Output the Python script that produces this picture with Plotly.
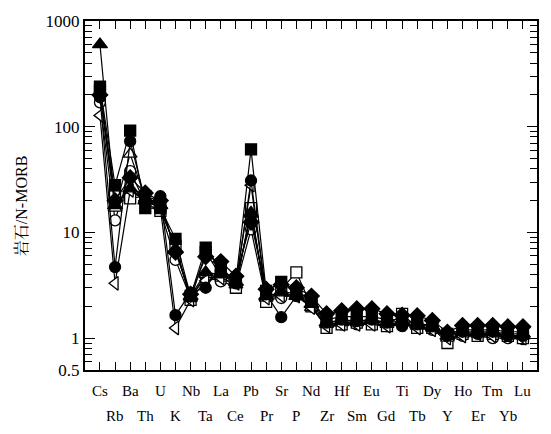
import plotly.graph_objects as go
import numpy as np

elements = ["Cs","Rb","Ba","Th","U","K","Nb","Ta","La","Ce","Pb","Pr","Sr","P","Nd",
            "Zr","Hf","Sm","Eu","Gd","Ti","Tb","Dy","Y","Ho","Er","Tm","Yb","Lu"]

open_circle   = [170, 13, 38, 19, 16, 5.5, 2.4, 3.8, 3.45, 3.1, 10.7, 2.3, 2.4, 2.7, 2.0,
                 1.3, 1.35, 1.35, 1.4, 1.3, 1.35, 1.3, 1.2, 1.0, 1.05, 1.05, 1.0, 1.0, 0.98]
open_square   = [220, 22, 21, 22, 16, 7.5, 2.3, 6.5, 3.9, 3.0, 17, 2.2, 2.9, 4.2, 2.0,
                 1.25, 1.35, 1.4, 1.35, 1.3, 1.7, 1.25, 1.25, 0.9, 1.1, 1.05, 1.1, 1.05, 1.0]
open_triangle = [210, 17, 55, 21, 18, 6.9, 2.4, 4.0, 4.1, 3.2, 15.5, 2.4, 2.8, 2.6, 1.95,
                 1.35, 1.4, 1.4, 1.45, 1.35, 1.4, 1.3, 1.25, 1.0, 1.1, 1.1, 1.1, 1.05, 1.05]
left_triangle = [128, 3.3, 25, 20, 17, 1.25, 2.3, 3.5, 3.7, 3.3, 28, 2.4, 2.5, 2.5, 1.95,
                 1.3, 1.35, 1.35, 1.35, 1.3, 1.35, 1.25, 1.2, 1.0, 1.05, 1.1, 1.05, 1.05, 1.0]
filled_triangle = [600, 18, 26, 20, 18, 7.0, 2.5, 4.2, 4.0, 3.4, 15, 2.5, 2.7, 2.5, 2.1,
                   1.4, 1.45, 1.45, 1.5, 1.4, 1.45, 1.35, 1.3, 1.05, 1.15, 1.15, 1.15, 1.1, 1.1]
filled_circle = [190, 4.7, 73, 20, 22, 1.65, 2.7, 3.0, 4.8, 3.3, 31, 2.6, 1.58, 2.5, 2.3,
                 1.4, 1.5, 1.45, 1.5, 1.4, 1.3, 1.35, 1.3, 1.05, 1.15, 1.1, 1.15, 1.05, 1.05]
filled_square = [240, 28, 92, 17, 17, 8.7, 2.5, 7.2, 4.5, 3.5, 61, 2.8, 3.4, 2.8, 2.3,
                 1.5, 1.6, 1.6, 1.6, 1.5, 1.5, 1.4, 1.3, 1.1, 1.2, 1.2, 1.2, 1.15, 1.15]
filled_diamond = [200, 20, 33, 23.6, 20, 6.5, 2.6, 5.9, 5.3, 3.85, 12.5, 2.9, 3.2, 3.0, 2.5,
                  1.7, 1.82, 1.9, 1.9, 1.7, 1.65, 1.63, 1.47, 1.14, 1.32, 1.32, 1.32, 1.28, 1.28]

y_tickvals = [0.5, 1, 10, 100, 1000]
y_ticktext = ["0.5", "1", "10", "100", "1000"]

series = [
    (open_circle, "circle", "white", 11),
    (open_square, "square", "white", 11),
    (open_triangle, "triangle-up", "white", 12),
    (left_triangle, "triangle-left", "white", 12),
    (filled_triangle, "triangle-up", "black", 13),
    (filled_circle, "circle", "black", 11),
    (filled_square, "square", "black", 11),
    (filled_diamond, "diamond", "black", 12),
]

x_idx = list(range(len(elements)))
fig = go.Figure()
for vals, sym, fill, size in series:
    fig.add_trace(go.Scatter(
        x=x_idx, y=vals, mode="lines+markers",
        line=dict(color="black", width=1.2),
        marker=dict(symbol=sym, size=size, color=fill, line=dict(color="black", width=1.3)),
        showlegend=False, cliponaxis=False))

minor_vals = []
for d in [0.1, 1, 10, 100]:
    for k in range(2, 10):
        v = k * d
        if 0.5 < v < 1000 and v not in y_tickvals:
            minor_vals.append(v)

fig.update_layout(
    width=535, height=418,
    margin=dict(l=77, r=4, t=6, b=56),
    paper_bgcolor="white", plot_bgcolor="white",
    font=dict(family="Liberation Serif, Noto Sans CJK SC", color="black", size=17),
    xaxis=dict(range=[-0.99, 28.93], tickvals=x_idx, showticklabels=False,
               ticks="inside", ticklen=8, tickwidth=1, tickcolor="black",
               showline=True, linecolor="black", linewidth=2, mirror="ticks",
               showgrid=False, zeroline=False),
    yaxis=dict(type="log", range=[np.log10(0.5), 3], tickvals=y_tickvals, ticktext=y_ticktext,
               ticks="inside", ticklen=10, tickwidth=1.2, tickcolor="black",
               minor=dict(tickvals=minor_vals, ticks="inside", ticklen=7, tickwidth=1, tickcolor="black"),
               showline=True, linecolor="black", linewidth=2, mirror="ticks",
               showgrid=False, zeroline=False, tickfont=dict(size=17),
               ticklabeloverflow="allow"),
)

for i, el in enumerate(elements):
    fig.add_annotation(x=i, y=(-0.059 if i % 2 == 0 else -0.133), xref="x", yref="paper",
                       text=el, showarrow=False, xanchor="center", yanchor="middle",
                       font=dict(size=15, family="Liberation Serif"))

fig.add_annotation(x=-0.139, y=0.47, xref="paper", yref="paper", text="岩石/N-MORB",
                   textangle=-90, showarrow=False, xanchor="center", yanchor="middle",
                   font=dict(size=16, family="Liberation Serif, Noto Serif CJK SC, Noto Sans CJK SC"))

fig.write_html("out.html")
